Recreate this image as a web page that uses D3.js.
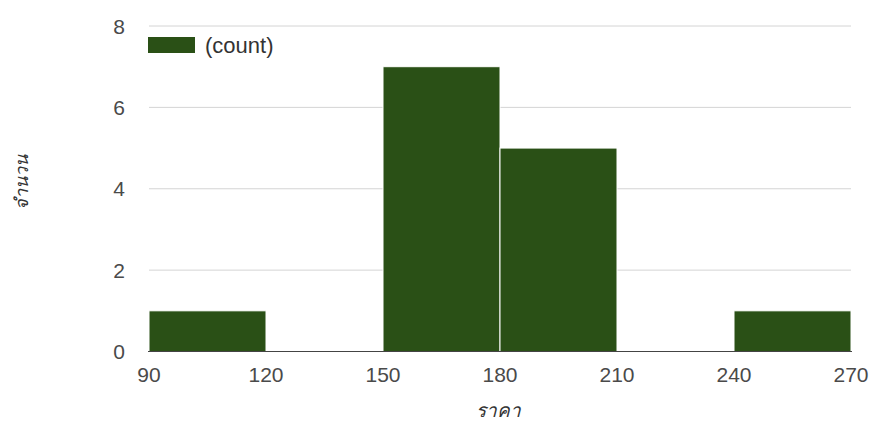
<!DOCTYPE html>
<html>
<head>
<meta charset="utf-8">
<script src="https://cdn.jsdelivr.net/npm/d3@7"></script>
<style>
  html, body { margin: 0; padding: 0; background: #fff; }
  svg { display: block; }
  text { font-family: Arial, "Liberation Sans", sans-serif; }
</style>
</head>
<body>
<svg id="chart" width="875" height="428"></svg>
<script>
// Price bins (lower edge, upper edge) and number of items in each bin
const binStarts = [90, 120, 150, 180, 210, 240];
const binEnds   = [120, 150, 180, 210, 240, 270];
const counts    = [1, 0, 7, 5, 0, 1];

const xTicks = [90, 120, 150, 180, 210, 240, 270];
const yTicks = [0, 2, 4, 6, 8];

const seriesName = "(count)";
const xTitle = "ราคา";
const yTitle = "จำนวน";

const barColor = "#2a5016";

const plot = { left: 149, right: 851, top: 26, bottom: 351.5 };

const svg = d3.select("#chart");

const x = d3.scaleLinear().domain([90, 270]).range([plot.left, plot.right]);
const y = d3.scaleLinear().domain([0, 8]).range([plot.bottom, plot.top]);

// horizontal gridlines
svg.append("g")
  .selectAll("line")
  .data(yTicks.filter(d => d !== 0))
  .join("line")
  .attr("x1", plot.left).attr("x2", plot.right)
  .attr("y1", d => y(d)).attr("y2", d => y(d))
  .attr("stroke", "#d4d4d4").attr("stroke-width", 1);

// y tick labels
svg.append("g")
  .selectAll("text")
  .data(yTicks)
  .join("text")
  .attr("x", 125).attr("y", d => y(d))
  .attr("dy", "0.36em")
  .attr("text-anchor", "end")
  .attr("font-size", 21)
  .attr("fill", "#4a4a4a")
  .text(d => d);

// bars
const bins = binStarts.map((s, i) => ({ start: s, end: binEnds[i], count: counts[i] }))
  .filter(d => d.count > 0);

svg.append("g")
  .selectAll("rect")
  .data(bins)
  .join("rect")
  .attr("x", d => x(d.start))
  .attr("y", d => y(d.count))
  .attr("width", d => x(d.end) - x(d.start))
  .attr("height", d => y(0) - y(d.count))
  .attr("fill", barColor)
  .attr("stroke", "#ffffff")
  .attr("stroke-width", 1);

// baseline
svg.append("line")
  .attr("x1", plot.left - 1).attr("x2", plot.right + 1)
  .attr("y1", y(0)).attr("y2", y(0))
  .attr("stroke", "#444").attr("stroke-width", 1.2);

// x tick labels
svg.append("g")
  .selectAll("text")
  .data(xTicks)
  .join("text")
  .attr("x", d => x(d)).attr("y", 382)
  .attr("text-anchor", "middle")
  .attr("font-size", 21)
  .attr("fill", "#4a4a4a")
  .text(d => d);

// legend
const legend = svg.append("g");
legend.append("rect")
  .attr("x", 148).attr("y", 37).attr("width", 47).attr("height", 16)
  .attr("fill", barColor);
legend.append("text")
  .attr("x", 205).attr("y", 52.5)
  .attr("font-size", 22)
  .attr("fill", "#333")
  .text(seriesName);

// axis titles
svg.append("text")
  .attr("x", (plot.left + plot.right) / 2 - 2).attr("y", 417)
  .attr("text-anchor", "middle")
  .attr("font-size", 19)
  .attr("font-style", "italic")
  .attr("fill", "#333")
  .text(xTitle);

svg.append("text")
  .attr("transform", `translate(28, ${(plot.top + plot.bottom) / 2 - 6}) rotate(-90)`)
  .attr("text-anchor", "middle")
  .attr("font-size", 18)
  .attr("font-style", "italic")
  .attr("fill", "#333")
  .text(yTitle);
</script>
</body>
</html>
